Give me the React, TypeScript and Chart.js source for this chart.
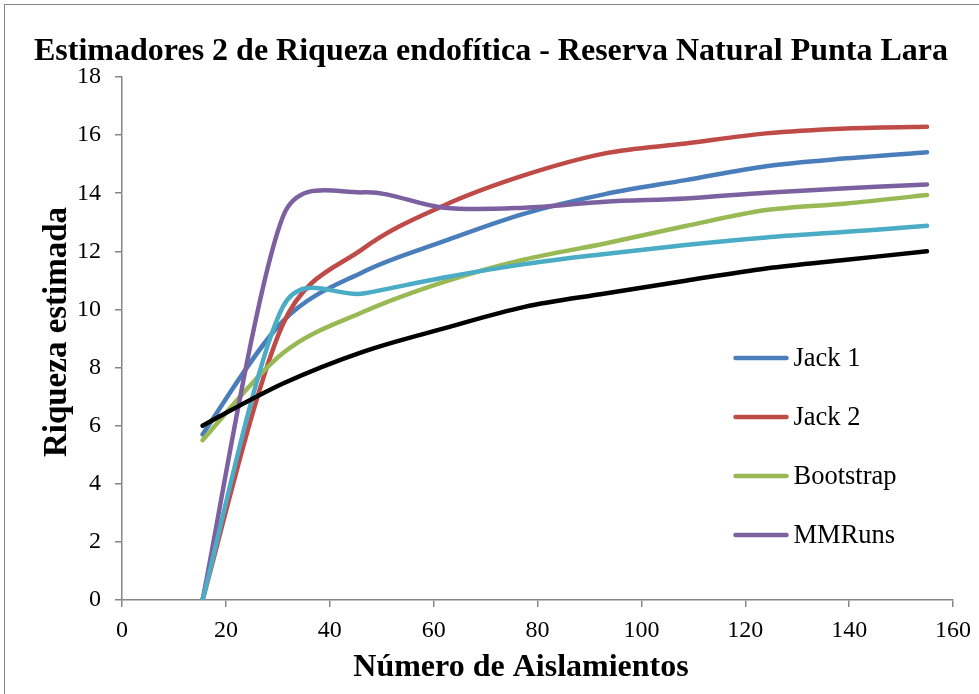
import { useEffect, useRef } from "react";
import { Chart, registerables } from "chart.js";

Chart.register(...registerables);

// Number of isolates at each accumulation step
const aislamientos = [15.5, 31, 46.5, 62, 77.5, 93, 108.5, 124, 139.5, 155];

// Richness estimates per estimator
const jack1 = [5.7, 9.6, 11.3, 12.35, 13.3, 13.97, 14.45, 14.93, 15.2, 15.41];
const jack2 = [0, 9.5, 12.1, 13.58, 14.62, 15.37, 15.71, 16.06, 16.23, 16.29];
const bootstrap = [5.5, 8.5, 9.92, 10.95, 11.72, 12.27, 12.87, 13.42, 13.65, 13.94];
const mmruns = [0, 13.2, 14.03, 13.5, 13.5, 13.71, 13.82, 14.02, 14.17, 14.3];
const serie5 = [0, 10.1, 10.55, 11.1, 11.56, 11.91, 12.22, 12.48, 12.67, 12.88];
const serie6 = [6.0, 7.45, 8.55, 9.35, 10.09, 10.55, 10.99, 11.41, 11.71, 12.0];

// Axis ranges and tick steps
const xTicks = { min: 0, max: 160, step: 20 };
const yTicks = { min: 0, max: 18, step: 2 };

const legendNames = ["Jack 1", "Jack 2", "Bootstrap", "MMRuns"];
const chartTitle = "Estimadores 2 de Riqueza endofítica - Reserva Natural Punta Lara";
const xTitle = "Número de Aislamientos";
const yTitle = "Riqueza estimada";

const FONT = '"Liberation Serif", "Times New Roman", serif';
const AXIS_GREY = "#868686";

const W = 979;
const H = 694;

const toPoints = (ys: number[]) => ys.map((y, i) => ({ x: aislamientos[i], y }));

// Smoothed lines: Catmull-Rom style tangents (1/6 of the neighbour chord),
// with each control arm limited to half of the segment it bends into.
const smoothLines = {
  id: "smoothLines",
  beforeDatasetsDraw(chart: any) {
    chart.getSortedVisibleDatasetMetas().forEach((meta: any) => {
      const pts = meta.data;
      const n = pts.length;
      for (let i = 0; i < n; i++) {
        const p = pts[i];
        const prev = pts[Math.max(i - 1, 0)];
        const next = pts[Math.min(i + 1, n - 1)];
        const tx = (next.x - prev.x) / 6;
        const ty = (next.y - prev.y) / 6;
        const arm = Math.hypot(tx, ty);
        const dPrev = Math.hypot(p.x - prev.x, p.y - prev.y);
        const dNext = Math.hypot(next.x - p.x, next.y - p.y);
        const sBack = arm > 0 ? Math.min(1, (0.5 * dPrev) / arm) : 0;
        const sFwd = arm > 0 ? Math.min(1, (0.5 * dNext) / arm) : 0;
        p.cp1x = p.x - tx * sBack;
        p.cp1y = p.y - ty * sBack;
        p.cp2x = p.x + tx * sFwd;
        p.cp2y = p.y + ty * sFwd;
      }
      if (meta.dataset) meta.dataset._pointsUpdated = true;
    });
  },
};

// Titles and the legend inside the plot area
const legendBox = { x0: 735.5, len: 51, top: 358, gap: 59, textGap: 7 };
const titlePos = { x: 491, y: 52 };
const xTitlePos = { x: 521, y: 668 };
const yTitlePos = { x: 57, y: 332 };

const annotations = {
  id: "annotations",
  afterDraw(chart: any) {
    const ctx = chart.ctx as CanvasRenderingContext2D;
    ctx.save();
    legendNames.forEach((name, i) => {
      const ds = chart.data.datasets.find((d: any) => d.label === name);
      if (!ds) return;
      const y = legendBox.top + i * legendBox.gap;
      ctx.strokeStyle = ds.borderColor;
      ctx.lineWidth = ds.borderWidth;
      ctx.lineCap = "round";
      ctx.beginPath();
      ctx.moveTo(legendBox.x0, y);
      ctx.lineTo(legendBox.x0 + legendBox.len, y);
      ctx.stroke();
      ctx.fillStyle = "#000";
      ctx.font = `26.5px ${FONT}`;
      ctx.textBaseline = "middle";
      ctx.textAlign = "left";
      ctx.fillText(name, legendBox.x0 + legendBox.len + legendBox.textGap, y + 1);
    });

    ctx.fillStyle = "#000";
    ctx.textBaseline = "middle";
    ctx.textAlign = "center";

    ctx.font = `bold 32px ${FONT}`;
    ctx.fillText(chartTitle, titlePos.x, titlePos.y);

    ctx.font = `bold 32px ${FONT}`;
    ctx.fillText(xTitle, xTitlePos.x, xTitlePos.y);

    ctx.save();
    ctx.translate(yTitlePos.x, yTitlePos.y);
    ctx.rotate(-Math.PI / 2);
    ctx.font = `bold 33px ${FONT}`;
    ctx.fillText(yTitle, 0, 0);
    ctx.restore();

    ctx.restore();
  },
};

export default function App() {
  const canvasRef = useRef<HTMLCanvasElement | null>(null);

  useEffect(() => {
    if (!canvasRef.current) return;

    const line = (label: string, data: number[], color: string, order: number) => ({
      label,
      data: toPoints(data),
      borderColor: color,
      backgroundColor: color,
      borderWidth: 4.5,
      borderCapStyle: "round" as const,
      borderJoinStyle: "round" as const,
      pointRadius: 0,
      pointHoverRadius: 0,
      tension: 0.4,
      fill: false,
      order,
    });

    const chart = new Chart(canvasRef.current, {
      type: "line",
      data: {
        datasets: [
          line("Jack 1", jack1, "#4A7EBB", 5),
          line("Jack 2", jack2, "#BE4B48", 4),
          line("Bootstrap", bootstrap, "#98B954", 3),
          line("MMRuns", mmruns, "#7D60A0", 2),
          line("Serie 5", serie5, "#4BACC6", 1),
          line("Serie 6", serie6, "#000000", 0),
        ],
      },
      options: {
        responsive: false,
        animation: false,
        devicePixelRatio: 1,
        layout: { padding: { left: 0, right: 26, top: 77, bottom: 0 } },
        plugins: {
          legend: { display: false },
          tooltip: { enabled: false },
          title: { display: false },
        },
        scales: {
          x: {
            type: "linear",
            min: xTicks.min,
            max: xTicks.max,
            afterFit: (s: any) => {
              s.height = 94;
              s.paddingLeft = 0;
              s.paddingRight = 0;
            },
            ticks: {
              stepSize: xTicks.step,
              color: "#000",
              padding: 9,
              font: { family: FONT, size: 24 },
              maxRotation: 0,
            },
            grid: {
              drawOnChartArea: false,
              drawTicks: true,
              tickLength: 7,
              color: AXIS_GREY,
              lineWidth: 1.5,
            },
            border: { color: AXIS_GREY, width: 1.5 },
            title: { display: false },
          },
          y: {
            type: "linear",
            min: yTicks.min,
            max: yTicks.max,
            afterFit: (s: any) => {
              s.width = 122;
              s.paddingTop = 0;
              s.paddingBottom = 0;
            },
            ticks: {
              stepSize: yTicks.step,
              color: "#000",
              padding: 14,
              font: { family: FONT, size: 24 },
            },
            grid: {
              drawOnChartArea: false,
              drawTicks: true,
              tickLength: 7,
              color: AXIS_GREY,
              lineWidth: 1.5,
            },
            border: { color: AXIS_GREY, width: 1.5 },
            title: { display: false },
          },
        },
      },
      plugins: [smoothLines, annotations],
    });

    return () => chart.destroy();
  }, []);

  return (
    <div
      style={{
        position: "absolute",
        left: 0,
        top: 0,
        width: W,
        height: H,
        background: "#fff",
        overflow: "hidden",
      }}
    >
      <div
        style={{
          position: "absolute",
          left: 4,
          top: 4,
          width: W + 20,
          height: H + 20,
          border: `1px solid ${AXIS_GREY}`,
        }}
      />
      <canvas
        ref={canvasRef}
        width={W}
        height={H}
        style={{ position: "absolute", left: 0, top: 0, width: W, height: H }}
      />
    </div>
  );
}
